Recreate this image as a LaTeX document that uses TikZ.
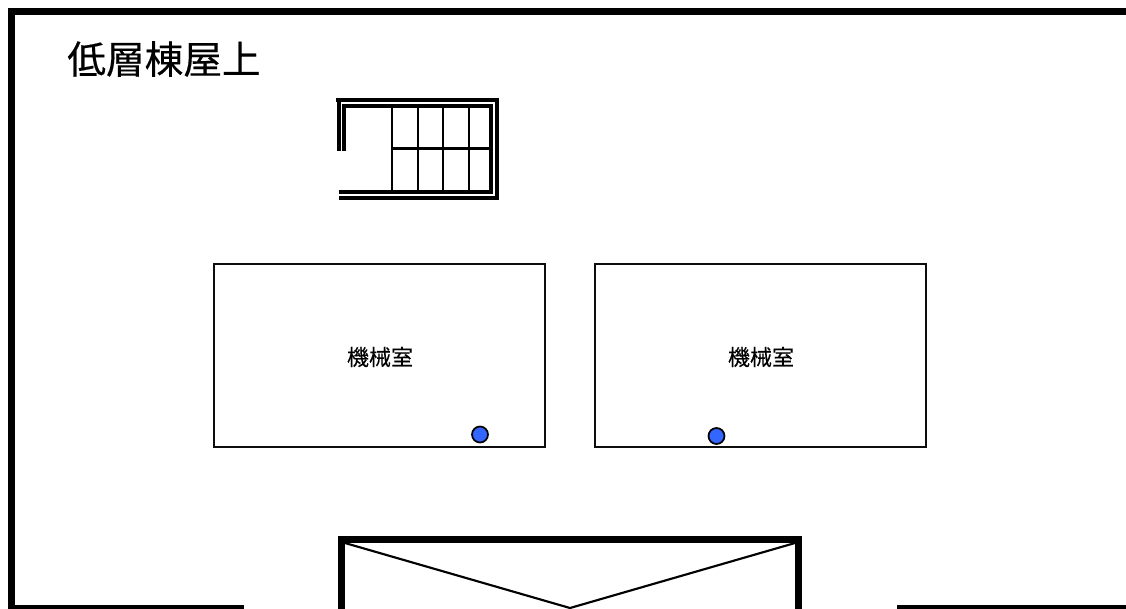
\documentclass[tikz,border=0pt]{standalone}
\usepackage{fontspec}
\usepackage{xcolor}
\setmainfont[FakeBold=0.3]{Noto Sans CJK JP}
\usetikzlibrary{positioning}
\definecolor{pinblue}{RGB}{51,102,255}

\begin{document}
\begin{tikzpicture}[
    x=0.75pt, y=-0.75pt,
    wall/.style={draw=black, line width=5.25pt, line cap=butt, miter limit=10},
    stairwall/.style={draw=black, line width=3pt, line join=miter},
    tread/.style={draw=black, line width=1.6pt},
    room/.style={rectangle, draw=black!95, line width=1.5pt, minimum width=248.25pt, minimum height=137.6pt},
    roomlabel/.style={font=\fontsize{16.5pt}{20pt}\selectfont},
    pin/.style={circle, draw=black, fill=pinblue, line width=1.3pt, minimum size=12pt, inner sep=0pt},
    titlelabel/.style={font=\fontsize{29pt}{34pt}\selectfont}
]
    \clip (0,0) rectangle (1126,608);

    % outer wall
    \draw[wall] (244,608.5) -- (11.5,608.5) -- (11.5,11.5) -- (1126,11.5);
    \draw[wall] (897,608.5) -- (1126,608.5);
    \node[titlelabel] (title) at (164,59) {低層棟屋上};

    % stairs
    \draw[stairwall] (339,198) -- (497,198) -- (497,100) -- (336,100);
    \draw[stairwall] (339,98) -- (339,151);
    \draw[stairwall] (339,192) -- (491,192) -- (491,106) -- (344,106) -- (344,151);
    \foreach \tx in {392,417.7,443.3,468.7}
        \draw[tread] (\tx,107) -- (\tx,191);
    \draw[tread] (392,148.5) -- (490,148.5);

    % machine rooms
    \node[room] (roomL) at (379.5,355.7) {};
    \node[room] (roomR) at (760.5,355.7) {};
    \node[roomlabel] (labelL) at (380,357) {機械室};
    \node[roomlabel] (labelR) at (761,357) {機械室};
    \node[pin] (pinL) at (480,434.5) {};
    \node[pin] (pinR) at (716.5,436) {};

    % lower block
    \draw[wall] (341.5,612) -- (341.5,539.5) -- (798.5,539.5) -- (798.5,612);
    \coordinate (roofL) at (345,543);
    \coordinate (roofR) at (795,543);
    \coordinate (roofM) at (570,608);
    \draw[line width=1.6pt] (roofL) -- (roofM) -- (roofR);
\end{tikzpicture}
\end{document}
